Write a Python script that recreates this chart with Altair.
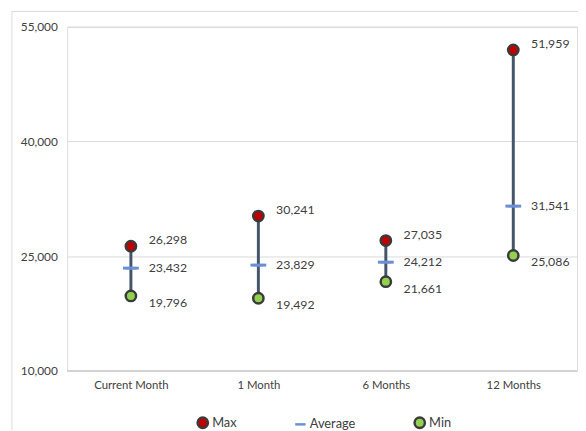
import altair as alt
import pandas as pd

categories = ["Current Month", "1 Month", "6 Months", "12 Months"]
max_vals = [26298, 30241, 27035, 51959]
avg_vals = [23432, 23829, 24212, 31541]
min_vals = [19796, 19492, 21661, 25086]
series_names = ["Max", "Average", "Min"]
y_ticks = [10000, 25000, 40000, 55000]

wide = pd.DataFrame({"category": categories, "Max": max_vals, "Average": avg_vals, "Min": min_vals})
long = wide.melt(id_vars="category", value_vars=series_names, var_name="series", value_name="value")

FONT = "Lato"
TXT = "#404040"
W, H = 517, 349

x_enc = alt.X("category:N", sort=categories, title=None,
              scale=alt.Scale(type="point", padding=0.5),
              axis=alt.Axis(labelAngle=0, ticks=False, domain=False, grid=False,
                            labelPadding=9, labelFontSize=11.5, labelColor=TXT, labelFont=FONT))
y_scale = alt.Scale(domain=[10000, 55000], nice=False, zero=False)
y_axis = alt.Axis(values=y_ticks, format=",.0f", ticks=False, domain=False,
                  gridColor="#D9D9D9", labelPadding=10, labelFontSize=12,
                  labelColor=TXT, labelFont=FONT)

def yq(field):
    return alt.Y(field, scale=y_scale, title=None, axis=y_axis)

base_axis_line = alt.Chart(alt.Data(values=[{"v": 10000}])).mark_rule(color="#BFBFBF", strokeWidth=1).encode(
    y=yq("v:Q"), x=alt.value(0), x2=alt.value(W)
)

frame_left = alt.Chart(alt.Data(values=[{}])).mark_rule(color="#D9D9D9", strokeWidth=1).encode(
    x=alt.value(-56), y=alt.value(-16), y2=alt.value(H + 70)
)
frame_top = alt.Chart(alt.Data(values=[{}])).mark_rule(color="#D9D9D9", strokeWidth=1).encode(
    x=alt.value(-56), x2=alt.value(W + 2), y=alt.value(-15.5)
)

connector = alt.Chart(wide).mark_rule(color="#44546A", strokeWidth=3).encode(
    x=x_enc, y=yq("Min:Q"), y2="Max:Q"
)

points = alt.Chart(long).mark_point(filled=True, opacity=1, strokeWidth=2.5, size=110).encode(
    x=x_enc,
    y=yq("value:Q"),
    fill=alt.Fill("series:N", scale=alt.Scale(domain=series_names, range=["#C00000", "#6A8FD4", "#92D050"]),
                  title=None,
                  legend=alt.Legend(orient="none", legendX=131, legendY=395, direction="horizontal",
                                    columnPadding=54, labelFontSize=13, labelFont=FONT, labelColor=TXT,
                                    symbolSize=110, symbolStrokeWidth=2.5, labelOffset=3)),
    stroke=alt.Stroke("series:N", scale=alt.Scale(domain=series_names, range=["#3A3A3A", "#6A8FD4", "#3A3A3A"]), title=None),
    shape=alt.Shape("series:N", scale=alt.Scale(domain=series_names, range=["circle", "stroke", "circle"]), title=None),
)

avg_ticks = alt.Chart(long).transform_filter(alt.datum.series == "Average").mark_tick(
    color="#6A8FD4", thickness=3, size=16, orient="horizontal", opacity=1
).encode(x=x_enc, y=yq("value:Q"))

def label_layer(name, dy):
    return alt.Chart(long).transform_filter(alt.datum.series == name).mark_text(
        align="left", baseline="middle", dx=18, dy=dy, fontSize=12.5, font=FONT, color=TXT
    ).encode(
        x=x_enc,
        y=yq("value:Q"),
        text=alt.Text("value:Q", format=","),
    )

labels = label_layer("Max", -6) + label_layer("Average", 0) + label_layer("Min", 7)

chart = alt.layer(frame_left, frame_top, connector, base_axis_line, points, avg_ticks, labels).properties(
    width=W, height=H,
    autosize=alt.AutoSizeParams(type="none"),
    padding={"left": 60, "top": 16, "right": 1, "bottom": 57},
).configure_view(stroke=None).configure(font=FONT)

chart.save("out.html", embed_options={"renderer": "svg", "actions": False})
